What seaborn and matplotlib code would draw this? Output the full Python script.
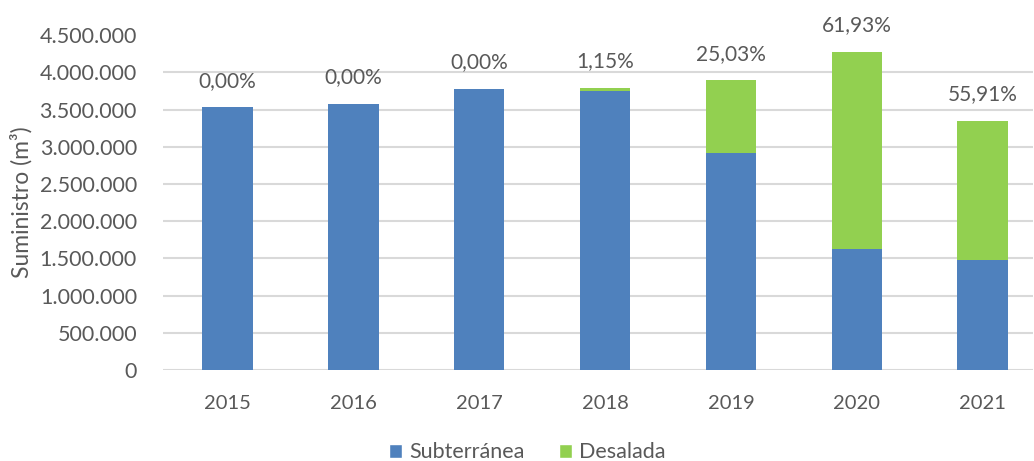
import matplotlib
matplotlib.use('Agg')
import matplotlib.pyplot as plt
import numpy as np
import pandas as pd
import seaborn as sns
from matplotlib.patches import Patch
from matplotlib.ticker import FuncFormatter

# values (m3)
years = ['2015', '2016', '2017', '2018', '2019', '2020', '2021']
subterranea = [3530000, 3580000, 3776000, 3746000, 2916000, 1626000, 1476000]
desalada = [0, 0, 0, 44000, 974000, 2644000, 1870000]
pct_labels = ['0,00%', '0,00%', '0,00%', '1,15%', '25,03%', '61,93%', '55,91%']

BLUE = '#4F81BD'
GREEN = '#92D050'
TEXT = '#595959'
GRID = '#D9D9D9'

df = pd.DataFrame({'year': years, 'Subterránea': subterranea, 'Desalada': desalada})
df['total'] = df['Subterránea'] + df['Desalada']

sns.set_theme(style='white')
plt.rcParams['font.family'] = ['Lato', 'DejaVu Sans']

fig = plt.figure(figsize=(10.34, 4.61), dpi=100)
ax = fig.add_axes([0.158, 0.197, 0.841, 0.727])

# stacked look: total in green, groundwater drawn over it in blue
sns.barplot(data=df, x='year', y='total', color=GREEN, width=0.40,
            saturation=1, linewidth=0, ax=ax, zorder=3)
sns.barplot(data=df, x='year', y='Subterránea', color=BLUE, width=0.40,
            saturation=1, linewidth=0, ax=ax, zorder=4)

ax.set_ylim(0, 4500000)
ax.set_xlim(-0.51, 6.40)
ax.set_yticks(np.arange(0, 4500001, 500000))
ax.yaxis.set_major_formatter(FuncFormatter(lambda v, p: '{:,.0f}'.format(v).replace(',', '.')))

for y in np.arange(0, 4000001, 500000):
    ax.axhline(y, color=GRID, linewidth=1.5, zorder=1)

for i, (tot, lab) in enumerate(zip(df['total'], pct_labels)):
    ax.annotate(lab, (i, tot), xytext=(0, 12), textcoords='offset points',
                ha='center', va='bottom', fontsize=15, color=TEXT)

ax.set_xlabel('')
ax.set_ylabel('Suministro (m³)', fontsize=16.5, color=TEXT, labelpad=5)
ax.tick_params(axis='both', length=0, labelcolor=TEXT)
ax.tick_params(axis='x', pad=18, labelsize=14.5)
ax.tick_params(axis='y', pad=19, labelsize=15.5)
for s in ax.spines.values():
    s.set_visible(False)

handles = [Patch(facecolor=BLUE, label='Subterránea'), Patch(facecolor=GREEN, label='Desalada')]
fig.legend(handles=handles, loc='lower center', bbox_to_anchor=(0.51, -0.045), ncol=2,
           frameon=False, fontsize=15.5, labelcolor=TEXT, handlelength=0.6, handleheight=0.6,
           handletextpad=0.35, columnspacing=1.6)

fig.savefig('out.png', dpi=100)
